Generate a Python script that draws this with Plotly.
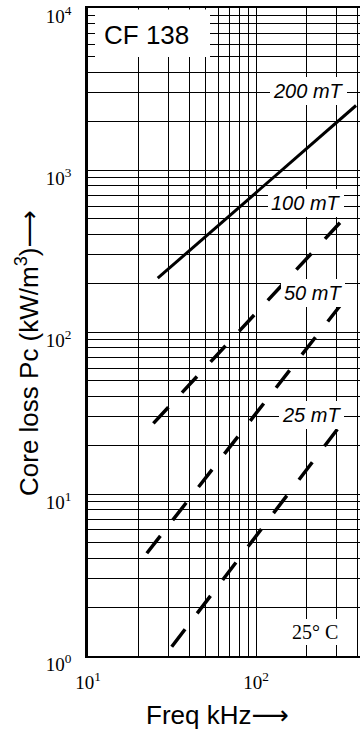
import plotly.graph_objects as go

# ---- data (freq in kHz, core loss in kW/m^3) ----
freq_200mT = [26, 100, 394]
loss_200mT = [215, 728, 2506]

freq_100mT = [24.5, 100, 316]
loss_100mT = [27.3, 131, 473]

freq_50mT = [22.4, 100, 319]
loss_50mT = [4.31, 31.4, 147]

freq_25mT = [31.5, 100, 305]
loss_25mT = [1.14, 5.5, 25.1]

series_labels = ["200 mT", "100 mT", "50 mT", "25 mT"]

# grid / tick values (every 1..9 multiple of each decade)
x_grid = [m * 10 ** e for e in (1, 2) for m in range(1, 10) if m * 10 ** e <= 400]
y_grid = [m * 10 ** e for e in (0, 1, 2, 3) for m in range(1, 10)] + [10000]
x_major = {10: "10<sup>1</sup>", 100: "10<sup>2</sup>"}
y_major = {1: "10<sup>0</sup>", 10: "10<sup>1</sup>", 100: "10<sup>2</sup>",
           1000: "10<sup>3</sup>", 10000: "10<sup>4</sup>"}

W, H = 360, 731
L, T, B = 88, 8, 75
PW, PH = W - L, H - T - B


def paper(px, py):
    return (px - L) / PW, (H - B - py) / PH


fig = go.Figure()
dashed = "22px,20px"
fig.add_trace(go.Scatter(x=freq_200mT, y=loss_200mT, mode="lines",
                         line=dict(color="black", width=3), name=series_labels[0]))
fig.add_trace(go.Scatter(x=freq_100mT, y=loss_100mT, mode="lines",
                         line=dict(color="black", width=3.5, dash=dashed), name=series_labels[1]))
fig.add_trace(go.Scatter(x=freq_50mT, y=loss_50mT, mode="lines",
                         line=dict(color="black", width=3.5, dash=dashed), name=series_labels[2]))
fig.add_trace(go.Scatter(x=freq_25mT, y=loss_25mT, mode="lines",
                         line=dict(color="black", width=3.5, dash=dashed), name=series_labels[3]))

tickfont = dict(family="Liberation Serif, Times New Roman, serif", size=19, color="black")
sans = "Liberation Sans, Arial, DejaVu Sans, sans-serif"

fig.update_xaxes(type="log", range=[1, 1 + PW / 168],
                 tickvals=x_grid, ticktext=[x_major.get(v, "") for v in x_grid],
                 showgrid=True, gridcolor="black", gridwidth=1,
                 showline=True, linecolor="black", linewidth=2, mirror=True,
                 ticks="", tickfont=tickfont, ticklabelstandoff=8,
                 ticklabeloverflow="allow",
                 zeroline=False, automargin=False)
fig.update_yaxes(type="log", range=[0, 4.001],
                 tickvals=y_grid, ticktext=[y_major.get(v, "") for v in y_grid],
                 showgrid=True, gridcolor="black", gridwidth=1,
                 showline=True, linecolor="black", linewidth=2.5, mirror=False,
                 ticks="", tickfont=tickfont, ticklabelstandoff=10,
                 ticklabelshift=8, ticklabeloverflow="allow",
                 zeroline=False, automargin=False)

# white box behind the "CF 138" title (hides the grid there)
bx0, by0 = paper(95, 57)
bx1, by1 = paper(210, 9.5)
shapes = [dict(type="rect", xref="paper", yref="paper", x0=bx0, y0=by0, x1=bx1, y1=by1,
               fillcolor="white", line=dict(width=0), layer="above")]

annotations = []
x0, y0 = paper(146, 35)
annotations.append(dict(text="CF 138", x=x0, y=y0, xref="paper", yref="paper",
                        xanchor="center", yanchor="middle", showarrow=False,
                        font=dict(family=sans, size=26, color="black")))

label_pos = [(308, 91.5), (306, 203.5), (312.5, 293), (311, 414.5)]
for lab, (lx, ly) in zip(series_labels, label_pos):
    ax, ay = paper(lx, ly)
    annotations.append(dict(text=lab, x=ax, y=ay, xref="paper", yref="paper",
                            xanchor="center", yanchor="middle", showarrow=False,
                            bgcolor="white", borderpad=3, borderwidth=0,
                            font=dict(family=sans, size=20, color="black",
                                      style="italic")))

tx, ty = paper(315, 632)
annotations.append(dict(text="25° C", x=tx, y=ty, xref="paper", yref="paper",
                        xanchor="center", yanchor="middle", showarrow=False,
                        bgcolor="white", borderpad=2, borderwidth=0,
                        font=dict(family="Liberation Serif, Times New Roman, serif",
                                  size=20, color="black")))

# axis titles
xt, yt = paper(217.5, 715)
annotations.append(dict(text="Freq kHz⟶", x=xt, y=yt, xref="paper", yref="paper",
                        xanchor="center", yanchor="middle", showarrow=False,
                        font=dict(family=sans, size=26, color="black")))
xt, yt = paper(27, 353)
annotations.append(dict(text="Core loss Pc (kW/m<sup>3</sup>)⟶", x=xt, y=yt,
                        xref="paper", yref="paper", textangle=-90,
                        xanchor="center", yanchor="middle", showarrow=False,
                        font=dict(family=sans, size=26, color="black")))

fig.update_layout(width=W, height=H, margin=dict(l=L, r=0, t=T, b=B),
                  plot_bgcolor="white", paper_bgcolor="white",
                  showlegend=False, annotations=annotations, shapes=shapes)

fig.write_html("out.html", config={"displayModeBar": False},
               post_script="document.body.style.margin='0';document.body.style.overflow='hidden';")
